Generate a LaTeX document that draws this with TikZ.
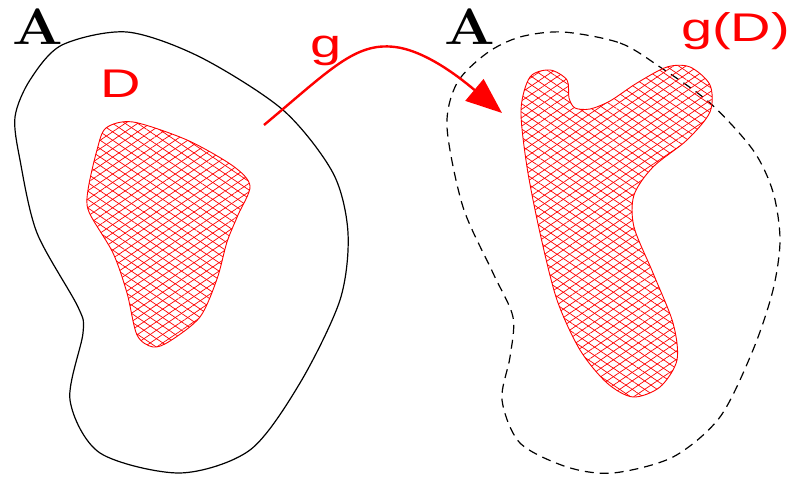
\documentclass[tikz,border=0pt]{standalone}
\usepackage{fontspec}
\usepackage{graphicx}
\setsansfont{Liberation Sans}
\usepackage{tikz}
\usetikzlibrary{arrows.meta,patterns.meta}

\begin{document}
\begin{tikzpicture}[
  x=1pt,y=-1pt,
  setA/.style={draw=black,line width=1.2pt},
  imageA/.style={setA,dash pattern=on 9pt off 6pt},
  hatched/.style={
    draw=red,
    line width=0.9pt,
    pattern={Lines[angle=34,distance=7pt,line width=0.7pt]},
    pattern color=red,
    postaction={pattern={Lines[angle=-34,distance=7pt,line width=0.7pt]},pattern color=red}
  },
  setname/.style={anchor=base west,inner sep=0pt,font=\fontsize{51}{51}\selectfont\bfseries},
  redname/.style={anchor=base west,inner sep=0pt,text=red,font=\fontsize{40}{40}\selectfont\sffamily},
  map/.style={-{Triangle[length=36pt,width=28pt]},draw=red,line width=2.4pt}
]
  \useasboundingbox (0,0) rectangle (798,478);

  % left set A with D inside
  \draw[setA] plot[smooth cycle] coordinates {
    (62,45) (127,32) (200,57) (283,110) (333,173) (348,233) (340,300)
    (300,383) (250,450) (180,473) (100,453) (70,400) (83,333) (78,307)
    (37,233) (20,160) (15,117) (30,80)};
  \draw[hatched] plot[smooth cycle] coordinates {
    (133,122) (187,140) (233,166) (250,186) (238,215) (227,242) (217,279)
    (200,317) (170,341) (153,347) (137,335) (127,293) (113,253) (89,212)
    (88,190) (97,150) (106,128)};

  % right set A with g(D)
  \draw[imageA] plot[smooth cycle] coordinates {
    (563,32) (620,43) (660,67) (710,103) (753,150) (773,192) (780,240)
    (773,290) (753,350) (720,417) (673,457) (613,473) (567,467) (520,443)
    (502,400) (510,357) (513,317) (493,273) (463,207) (447,127) (457,83)
    (487,53) (520,37)};
  \draw[hatched] plot[smooth cycle,tension=0.5] coordinates {
    (530,77) (550,70) (567,80) (569,98) (575,108) (590,109) (610,101)
    (637,83) (667,67) (690,67) (710,85) (710,112) (687,140) (653,167)
    (634,195) (634,227) (653,273) (673,323) (677,360) (660,387) (633,397)
    (607,383) (580,350) (557,300) (540,233) (527,167) (521,110)};

  % labels
  \node[setname] (nameA) at (12,45) {\scalebox{1.17}[1]{A}};
  \node[setname] (nameB) at (444,45) {\scalebox{1.17}[1]{A}};
  \node[redname] (nameD) at (100,98) {\scalebox{1.4}[1]{D}};
  \node[redname] (nameg) at (310,58) {\scalebox{1.4}[1]{g}};
  \node[redname] (namegD) at (681,42) {\scalebox{1.4}[1]{g(D)}};

  % the map g
  \coordinate (gstart) at (264,125);
  \coordinate (gend) at (502,113);
  \draw[map] (gstart) .. controls (330,70) and (355,42) .. (395,47)
    .. controls (428,51) and (465,82) .. (gend);
\end{tikzpicture}
\end{document}
